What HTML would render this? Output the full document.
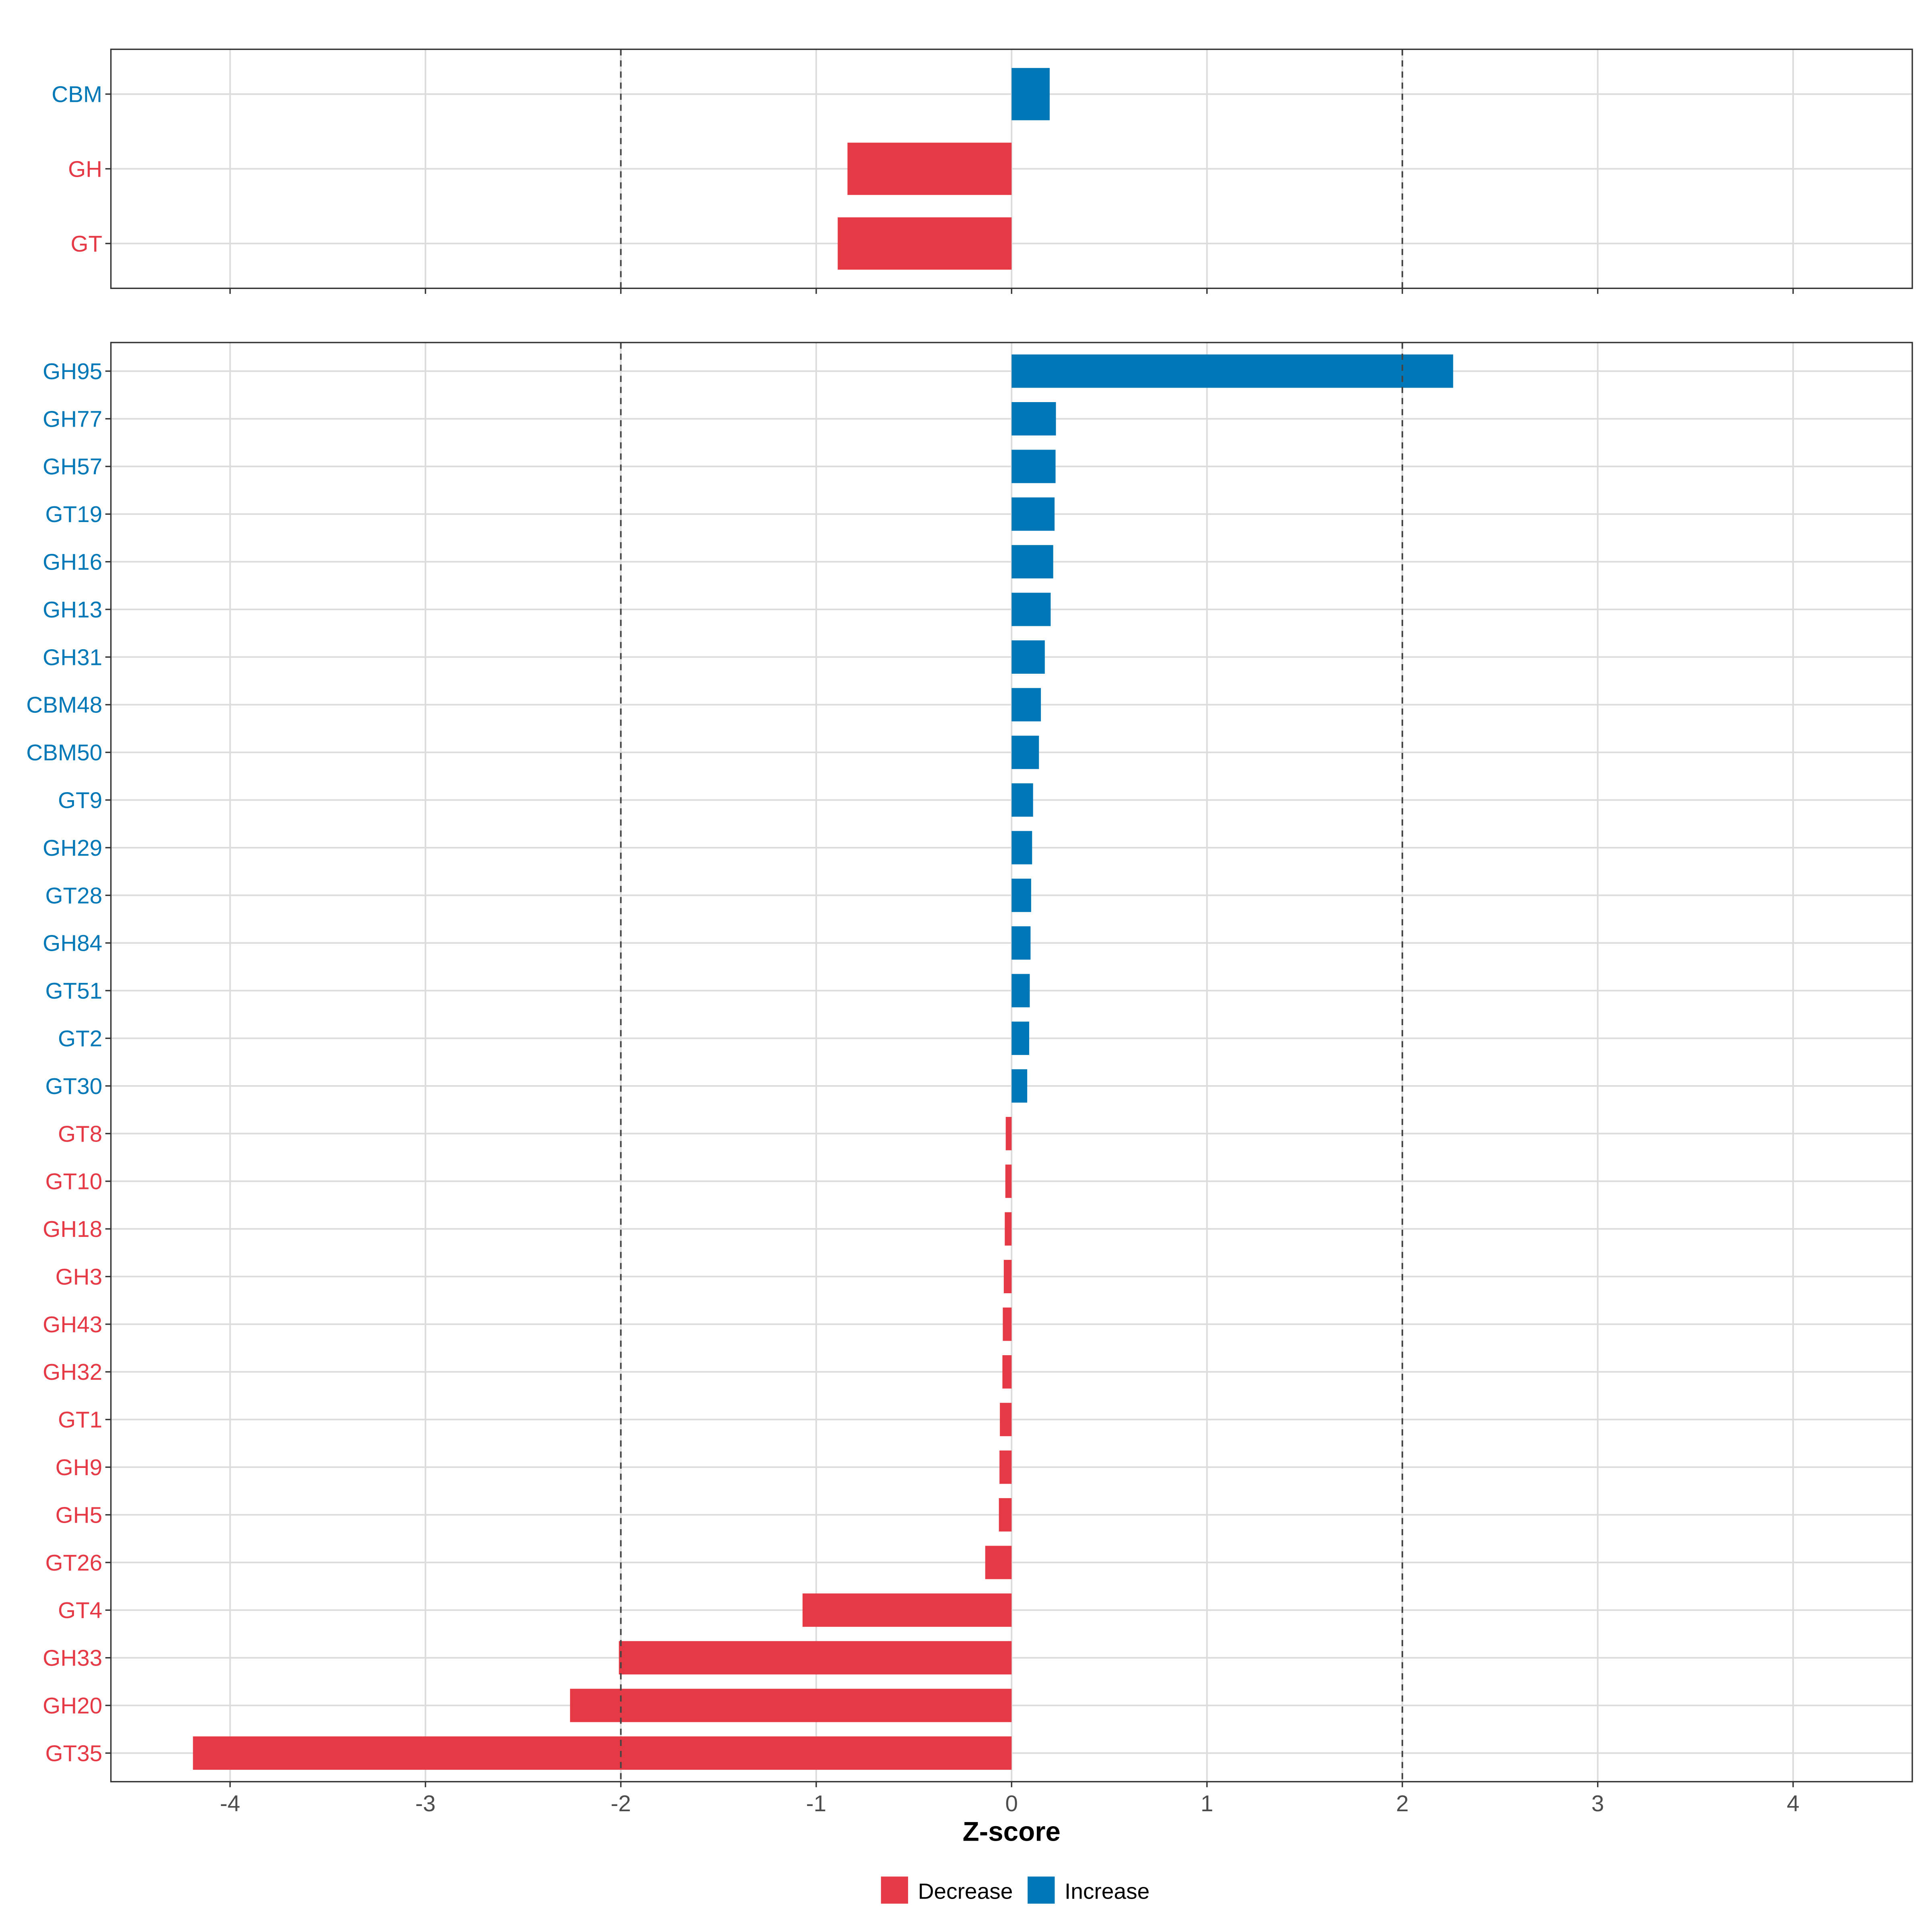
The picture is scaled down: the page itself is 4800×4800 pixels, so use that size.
<!DOCTYPE html>
<html><head><meta charset="utf-8"><style>html,body{margin:0;padding:0;background:#fff}svg{display:block}text{font-family:"Liberation Sans",Arial,sans-serif}</style></head>
<body>
<svg id="chart" width="4800" height="4800" viewBox="0 0 1568 1568" xmlns="http://www.w3.org/2000/svg"></svg>
<script>
const topCategories = ["CBM","GH","GT"];
const topValues = [0.195,-0.84,-0.89];
const categories = ["GH95","GH77","GH57","GT19","GH16","GH13","GH31","CBM48","CBM50","GT9","GH29","GT28","GH84","GT51","GT2","GT30","GT8","GT10","GH18","GH3","GH43","GH32","GT1","GH9","GH5","GT26","GT4","GH33","GH20","GT35"];
const values = [2.26,0.227,0.225,0.22,0.213,0.2,0.17,0.15,0.14,0.11,0.105,0.1,0.097,0.093,0.09,0.08,-0.03,-0.032,-0.035,-0.04,-0.045,-0.047,-0.06,-0.062,-0.065,-0.135,-1.07,-2.01,-2.26,-4.19];
const xTicks = [-4,-3,-2,-1,0,1,2,3,4];
const xTickLabels = ["-4","-3","-2","-1","0","1","2","3","4"];
const thresholds = [-2,2];

const RED="#E63946", BLUE="#0077B6";
const svg=document.getElementById('chart');
const NS="http://www.w3.org/2000/svg";
function mk(tag,attrs,parent){const e=document.createElementNS(NS,tag);for(const k in attrs)e.setAttribute(k,attrs[k]);(parent||svg).appendChild(e);return e;}
const L=90,R=1552,XMIN=-4.61,XMAX=4.61;
function xs(v){return L+(v-XMIN)/(XMAX-XMIN)*(R-L);}

function panel(name,cats,vals,top,bottom,showLabels){
  const g=mk('g',{});
  
  
  const n=cats.length, span=n-1+1.2, unit=(bottom-top)/span;
  const ys=i=>top+(0.6+i)*unit;
  for(const t of xTicks){const l=mk('line',{x1:xs(t),x2:xs(t),y1:top,y2:bottom,stroke:'#dcdcdc','stroke-width':1.3},g);}
  cats.forEach((c,i)=>{const l=mk('line',{x1:L,x2:R,y1:ys(i),y2:ys(i),stroke:'#dcdcdc','stroke-width':1.3},g);});
  cats.forEach((c,i)=>{
    const v=vals[i], x0=xs(0), x1=xs(v), h=0.7*unit;
    const r=mk('rect',{x:Math.min(x0,x1),y:ys(i)-h/2,width:Math.abs(x1-x0),height:h,fill:v>=0?BLUE:RED},g);
    
    
    const t=mk('text',{x:83,y:ys(i)+6.5,'text-anchor':'end','font-size':18.5,fill:v>=0?BLUE:RED},g);
    t.textContent=c;
    
    
    mk('line',{x1:85.5,x2:L,y1:ys(i),y2:ys(i),stroke:'#333','stroke-width':1.1},g);
  });
  for(const th of thresholds){const l=mk('line',{x1:xs(th),x2:xs(th),y1:top,y2:bottom,stroke:'#444','stroke-width':1.3,'stroke-dasharray':'5,4'},g);}
  const b=mk('rect',{x:L,y:top,width:R-L,height:bottom-top,fill:'none',stroke:'#333','stroke-width':1.1},g);
  
  xTicks.forEach((t,i)=>{
    mk('line',{x1:xs(t),x2:xs(t),y1:bottom,y2:bottom+4.5,stroke:'#333','stroke-width':1.1},g);
    if(showLabels){const tx=mk('text',{x:xs(t),y:bottom+24,'text-anchor':'middle','font-size':18.5,fill:'#4d4d4d'},g);tx.textContent=xTickLabels[i];}
  });
}
panel('top-panel',topCategories,topValues,40,234,false);
panel('bottom-panel',categories,values,278,1446,true);
</script>
<script>
(function(){
const svg=document.getElementById('chart');const NS="http://www.w3.org/2000/svg";
function mk(tag,attrs){const e=document.createElementNS(NS,tag);for(const k in attrs)e.setAttribute(k,attrs[k]);svg.appendChild(e);return e;}
const t=mk('text',{x:821,y:1494,'text-anchor':'middle','font-size':22,'font-weight':'bold',fill:'#000'});t.textContent='Z-score';


const k1=mk('rect',{x:715,y:1523,width:22,height:22,fill:'#E63946'});


const l1=mk('text',{x:745,y:1541,'font-size':18,fill:'#000'});l1.textContent='Decrease';


const k2=mk('rect',{x:834,y:1523,width:22,height:22,fill:'#0077B6'});


const l2=mk('text',{x:864,y:1541,'font-size':18,fill:'#000'});l2.textContent='Increase';


})();
</script>
</body></html>
